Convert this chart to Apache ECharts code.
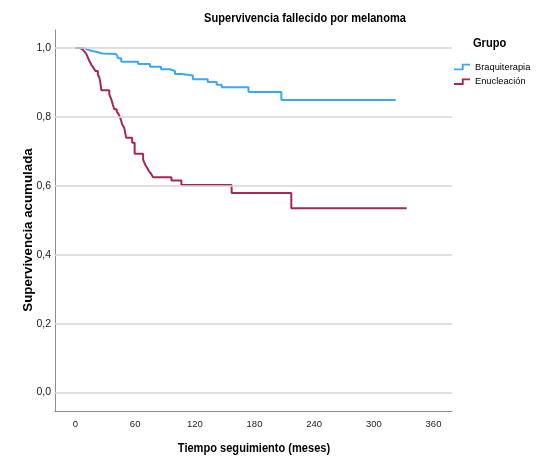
<!DOCTYPE html>
<html>
<head>
<meta charset="utf-8">
<script src="https://cdn.jsdelivr.net/npm/echarts@6/dist/echarts.min.js"></script>
<style>
html,body{margin:0;padding:0;background:#fff;}
#c{width:548px;height:457px;}
</style>
</head>
<body>
<div id="c"></div>
<script>
// ---- data ----
var chartTitle = 'Supervivencia fallecido por melanoma';
var xAxisTitle = 'Tiempo seguimiento (meses)';
var yAxisTitle = 'Supervivencia acumulada';
var legendTitle = 'Grupo';
var seriesNames = ['Braquiterapia', 'Enucleación'];
var xTicks = [0, 60, 120, 180, 240, 300, 360];
var yTicks = [0, 0.2, 0.4, 0.6, 0.8, 1.0];

var braqTime = [0, 9, 12, 17, 22, 27, 41, 43, 46, 63, 75, 86, 95, 100, 107, 118, 133, 142, 147, 174, 207, 322];
var braqSurv = [1.0, 0.995, 0.991, 0.988, 0.984, 0.982, 0.978, 0.970, 0.960, 0.953, 0.945, 0.938, 0.933, 0.924, 0.920, 0.909, 0.901, 0.893, 0.886, 0.872, 0.849, 0.849];

var enucTime = [0, 4, 7, 9, 11, 12.5, 14, 16, 18, 20, 22.5, 24, 25, 26, 34, 36, 37.5, 39, 41.5, 43.5, 45.5, 47, 49, 51, 57, 59.5, 68, 70, 72, 74, 76, 78, 96.5, 106.5, 157, 217, 333];
var enucSurv = [1.0, 0.996, 0.993, 0.989, 0.982, 0.972, 0.962, 0.951, 0.943, 0.933, 0.923, 0.914, 0.900, 0.877, 0.865, 0.851, 0.836, 0.822, 0.815, 0.807, 0.793, 0.778, 0.768, 0.739, 0.725, 0.693, 0.676, 0.662, 0.652, 0.642, 0.635, 0.625, 0.615, 0.602, 0.579, 0.535, 0.535];

function pairs(t, s) { return t.map(function (v, i) { return [v, s[i]]; }); }

var SANS = "'Liberation Sans',Arial,Helvetica,sans-serif";
var BLUE = '#3aa9f2';
var RED = '#a8255a';
var NARROW_SCALE = 0.82;
var stepIcon = 'path://M0,5 L8.3,5 L8.3,0 L17,0 L17,2 L10.3,2 L10.3,7 L0,7 Z';

function narrowText(text, x, y, size, align, rotation) {
  return {
    type: 'text', x: x, y: y, scaleX: NARROW_SCALE, rotation: rotation || 0, silent: true,
    style: {
      text: text, fill: '#000',
      fontFamily: SANS, fontSize: size, fontWeight: 'bold',
      align: align, verticalAlign: 'middle',
      textAlign: align, textVerticalAlign: 'middle'
    }
  };
}

var chart = echarts.init(document.getElementById('c'), null, {renderer: 'canvas'});
chart.setOption({
  animation: false,
  backgroundColor: '#fff',
  graphic: [
    narrowText(chartTitle, 305, 18.5, 13.5, 'center'),
    narrowText(xAxisTitle, 254, 448.5, 13.5, 'center'),
    narrowText(legendTitle, 473, 43, 13.5, 'left'),
    {
      type: 'text', x: 28, y: 230, rotation: Math.PI / 2, silent: true,
      style: {
        text: yAxisTitle, fill: '#000',
        fontFamily: SANS, fontSize: 13.3, fontWeight: 'bold',
        align: 'center', verticalAlign: 'middle',
        textAlign: 'center', textVerticalAlign: 'middle'
      }
    }
  ],
  legend: {
    orient: 'vertical', left: 454, top: 61, padding: 0,
    itemWidth: 16, itemHeight: 7, itemGap: 2.7,
    selectedMode: false,
    textStyle: {fontFamily: SANS, fontSize: 9.3, color: '#000', lineHeight: 12},
    data: [
      {name: seriesNames[0], icon: stepIcon, itemStyle: {color: BLUE}},
      {name: seriesNames[1], icon: stepIcon, itemStyle: {color: RED}}
    ]
  },
  grid: {left: 55, top: 30, width: 397, height: 381.5, containLabel: false},
  xAxis: {
    type: 'value', min: -20.6, max: 378.6,
    axisLine: {show: true, onZero: false, lineStyle: {color: '#8c8c8c', width: 1}},
    axisTick: {show: false},
    splitLine: {show: false},
    axisLabel: {customValues: xTicks, fontFamily: SANS, fontSize: 9.5, color: '#1a1a1a', margin: 8}
  },
  yAxis: {
    type: 'value', min: -0.055, max: 1.052,
    axisLine: {show: true, onZero: false, lineStyle: {color: '#8c8c8c', width: 1}},
    axisTick: {show: false},
    splitLine: {show: false},
    axisLabel: {customValues: yTicks, fontFamily: SANS, fontSize: 10.5, color: '#1a1a1a', margin: 4,
      formatter: function (v) { return v.toFixed(1).replace('.', ','); }}
  },
  series: [
    {
      type: 'line', name: '__grid', data: [], silent: true, z: 1,
      markLine: {
        silent: true, symbol: ['none', 'none'], label: {show: false},
        lineStyle: {color: '#d6d6d6', width: 1.5, type: 'solid'},
        data: yTicks.map(function (v) { return {yAxis: v}; })
      }
    },
    {
      type: 'line', name: seriesNames[0], step: 'end', showSymbol: false, z: 3,
      data: pairs(braqTime, braqSurv),
      lineStyle: {color: BLUE, width: 2}, itemStyle: {color: BLUE}
    },
    {
      type: 'line', name: seriesNames[1], step: 'end', showSymbol: false, z: 3,
      data: pairs(enucTime, enucSurv),
      lineStyle: {color: RED, width: 2}, itemStyle: {color: RED}
    }
  ]
});
</script>
</body>
</html>
